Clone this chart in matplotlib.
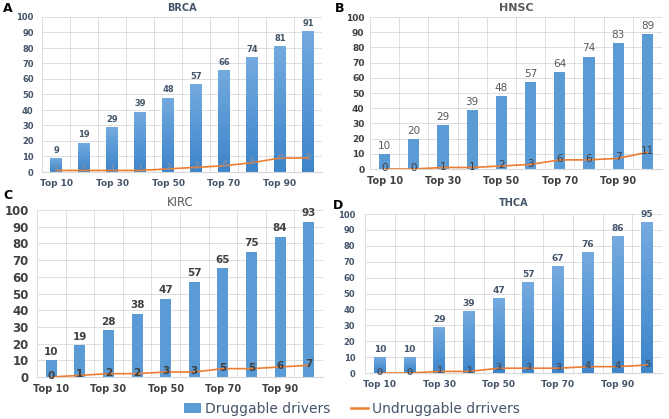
import numpy as np
import matplotlib
matplotlib.use("Agg")
import matplotlib.pyplot as plt
from matplotlib.colors import LinearSegmentedColormap
from matplotlib.lines import Line2D
from matplotlib.patches import Patch

# Data
categories = ["Top 10", "Top 20", "Top 30", "Top 40", "Top 50",
              "Top 60", "Top 70", "Top 80", "Top 90", "Top 100"]
shown_ticks = ["Top 10", "Top 30", "Top 50", "Top 70", "Top 90"]

brca_drug = [9, 19, 29, 39, 48, 57, 66, 74, 81, 91]
brca_undrug = [1, 1, 1, 1, 2, 3, 4, 6, 9, 9]
hnsc_drug = [10, 20, 29, 39, 48, 57, 64, 74, 83, 89]
hnsc_undrug = [0, 0, 1, 1, 2, 3, 6, 6, 7, 11]
kirc_drug = [10, 19, 28, 38, 47, 57, 65, 75, 84, 93]
kirc_undrug = [0, 1, 2, 2, 3, 3, 5, 5, 6, 7]
thca_drug = [10, 10, 29, 39, 47, 57, 67, 76, 86, 95]
thca_undrug = [0, 0, 1, 1, 3, 3, 3, 4, 4, 5]

BLUE = "#5B9BD5"
ORANGE = "#ED7D31"
GRID = "#D9D9D9"

W, H = 669, 419
fig = plt.figure(figsize=(W / 100, H / 100), dpi=100)


def px_axes(left, right, top, bottom):
    return fig.add_axes([left / W, 1 - bottom / H, (right - left) / W, (bottom - top) / H])


grad = LinearSegmentedColormap.from_list("g", ["#3D85CB", "#74AADF"])


def panel(ax, drug, undrug, title, style):
    x = np.arange(len(categories))
    bars = ax.bar(x, drug, width=style["bw"], color=BLUE, zorder=2)
    if style["gradient"]:
        for b in bars:
            b.set_facecolor("none")
            bx, bw, bh = b.get_x(), b.get_width(), b.get_height()
            im = ax.imshow(np.linspace(0, 1, 64).reshape(-1, 1), cmap=grad, aspect="auto",
                           extent=(bx, bx + bw, 0, bh), origin="lower", zorder=2)
            im.set_clip_path(b)
    ax.plot(x, undrug, color=ORANGE, lw=1.2, zorder=3)
    for xi, v in zip(x, drug):
        ax.text(xi, v + 2, str(v), ha="center", va="bottom", fontsize=style["lfs"],
                color=style["lcol"], fontweight=style["lw"], zorder=4)
    for xi, v in zip(x, undrug):
        ax.text(xi, v + 0.6, str(v), ha="center", va="center", fontsize=style["lfs"],
                color=style["ucol"], fontweight=style["lw"], zorder=4)
    ax.set_xlim(-0.5, len(categories) - 0.5)
    ax.set_ylim(0, 100)
    ax.set_yticks(range(0, 101, 10))
    ax.set_xticks(x[::2])
    ax.set_xticklabels(shown_ticks)
    ax.set_xticks(np.arange(-0.5, len(categories), 1), minor=True)
    ax.grid(True, which="minor", axis="x", color=GRID, lw=0.6, zorder=0)
    ax.grid(True, which="major", axis="y", color=GRID, lw=0.6, zorder=0)
    ax.tick_params(which="both", length=0)
    ax.tick_params(axis="y", labelsize=style["yfs"], colors=style["tcol"], pad=style["ypad"])
    ax.tick_params(axis="x", labelsize=style["xfs"], colors=style["tcol"], pad=5)
    for lab in ax.get_xticklabels() + ax.get_yticklabels():
        lab.set_fontweight("bold")
    for s in ["top", "right", "left"]:
        ax.spines[s].set_visible(False)
    ax.spines["bottom"].set_color(GRID)
    ax.set_title(title, fontsize=style["tfs"], fontweight=style["tw"], color=style["ttl"],
                 pad=style["tpad"])


style_a = dict(bw=0.4, gradient=True, lfs=6, lcol="#44546A", ucol="#7F8FA6", lw="bold",
               yfs=6, ypad=6, xfs=6.5, tcol="#44546A", tfs=7, tw="bold", ttl="#44546A", tpad=4)
style_b = dict(bw=0.38, gradient=False, lfs=7.5, lcol="#595959", ucol="#404040", lw="normal",
               yfs=6.5, ypad=4, xfs=7, tcol="#404040", tfs=8, tw="bold", ttl="#595959", tpad=4)
style_c = dict(bw=0.38, gradient=False, lfs=7.5, lcol="#404040", ucol="#404040", lw="bold",
               yfs=8.5, ypad=6, xfs=7, tcol="#404040", tfs=8.5, tw="normal", ttl="#595959", tpad=3)
style_d = dict(bw=0.4, gradient=True, lfs=6.5, lcol="#44546A", ucol="#44546A", lw="bold",
               yfs=6, ypad=7, xfs=6.5, tcol="#44546A", tfs=7, tw="bold", ttl="#44546A", tpad=6)

ax_a = px_axes(42, 322, 17, 172)
ax_b = px_axes(370, 662, 17, 169)
ax_c = px_axes(37, 323, 210, 377)
ax_d = px_axes(365, 662, 214, 373)

panel(ax_a, brca_drug, brca_undrug, "BRCA", style_a)
panel(ax_b, hnsc_drug, hnsc_undrug, "HNSC", style_b)
panel(ax_c, kirc_drug, kirc_undrug, "KIRC", style_c)
panel(ax_d, thca_drug, thca_undrug, "THCA", style_d)

for letter, lx, ly in [("A", 3, 9), ("B", 335, 8), ("C", 3, 195), ("D", 333, 205)]:
    fig.text(lx / W, 1 - ly / H, letter, fontsize=9, fontweight="bold", va="center", ha="left")

handles = [Patch(facecolor=BLUE, label="Druggable drivers"),
           Line2D([0], [0], color=ORANGE, lw=1.8, label="Undruggable drrivers")]
fig.legend(handles=handles, loc="center", bbox_to_anchor=(352 / W, 1 - 409 / H), ncol=2,
           frameon=False, fontsize=10, labelcolor="#44546A", handlelength=1.2,
           handletextpad=0.3, columnspacing=1.5)

fig.savefig("out.png", dpi=100)
